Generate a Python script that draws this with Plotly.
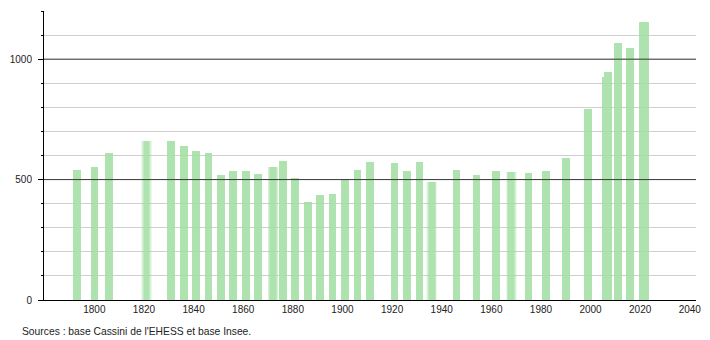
import plotly.graph_objects as go

years = [1793, 1800, 1806, 1821, 1831, 1836, 1841, 1846, 1851, 1856, 1861, 1866,
         1872, 1876, 1881, 1886, 1891, 1896, 1901, 1906, 1911, 1921, 1926, 1931,
         1936, 1946, 1954, 1962, 1968, 1975, 1982, 1990, 1999, 2006, 2007, 2011,
         2016, 2021, 2022]
population = [540, 552, 612, 661, 661, 641, 619, 612, 520, 537, 536, 525,
              554, 578, 507, 409, 437, 442, 502, 540, 571, 568, 536, 572,
              488, 540, 520, 537, 533, 528, 536, 591, 795, 927, 948, 1066,
              1046, 1154, 1154]
soft_years = [1821, 1872, 1936, 1968]

x_ticks = list(range(1800, 2041, 20))
major_y = [500, 1000]
source_text = "Sources : base Cassini de l'EHESS et base Insee."

BAR = "rgb(163,223,163)"
BAR_W = 3.1

sharp_x = [y for y in years if y not in soft_years]
sharp_v = [v for y, v in zip(years, population) if y not in soft_years]
soft_x = [y for y in years if y in soft_years]
soft_v = [v for y, v in zip(years, population) if y in soft_years]

fig = go.Figure()
# soft (blurred) bars: halo layers
for w, op in [(4.4, 0.18), (3.7, 0.3), (3.0, 0.45), (2.2, 0.6)]:
    fig.add_trace(go.Bar(x=soft_x, y=soft_v, width=w, marker=dict(color=BAR, line=dict(width=0)),
                         opacity=op, hoverinfo="skip", showlegend=False))
fig.add_trace(go.Bar(x=sharp_x, y=sharp_v, width=BAR_W, marker=dict(color=BAR, line=dict(width=0)),
                     opacity=0.88, showlegend=False))

for m in major_y:
    fig.add_shape(type="line", xref="paper", x0=0, x1=1, yref="y", y0=m, y1=m,
                  line=dict(color="#3a3a3a", width=1), layer="above")

fig.add_annotation(text=source_text, xref="paper", yref="paper", x=-24 / 657, y=-31 / 289,
                   xanchor="left", yanchor="middle", showarrow=False,
                   font=dict(family="Liberation Sans, Arial, sans-serif", size=10.3, color="#222"))

fig.update_layout(
    width=710, height=340,
    margin=dict(l=44, r=9, t=11, b=40),
    paper_bgcolor="white", plot_bgcolor="white",
    barmode="overlay", bargap=0,
    font=dict(family="Liberation Sans, Arial, sans-serif", size=10, color="#222"),
    xaxis=dict(range=[1779.7, 2042.5], tickmode="array", tickvals=x_ticks,
               ticks="", showgrid=False, zeroline=False,
               showline=True, linecolor="black", linewidth=1, layer="above traces"),
    yaxis=dict(range=[0, 1200], tickmode="array", tickvals=[0, 500, 1000],
               ticks="outside", ticklen=5, tickcolor="black", tickwidth=1,
               ticklabelstandoff=4,
               showgrid=False, zeroline=False,
               showline=True, linecolor="black", linewidth=1, layer="above traces",
               minor=dict(dtick=100, tick0=0, ticks="outside", ticklen=2, tickcolor="black",
                          showgrid=True, gridcolor="#cfcfcf", gridwidth=1)),
)

fig.write_html("out.html")
